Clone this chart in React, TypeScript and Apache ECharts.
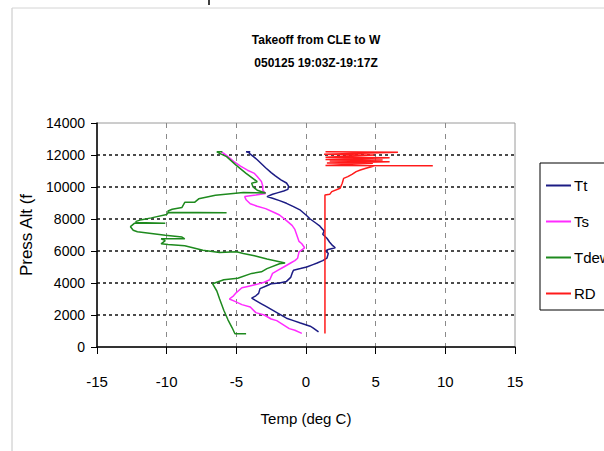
import React, { useEffect, useRef } from "react";
import * as echarts from "echarts";

const titleLine1 = "Takeoff from CLE to W";
const titleLine2 = "050125 19:03Z-19:17Z";
const xAxisName = "Temp (deg C)";
const yAxisName = "Press Alt (f";
const seriesNames = ["Tt", "Ts", "Tdew", "RD"];

// [temp (deg C), pressure altitude (ft)]
const ttData: [number, number][] = [
  [0.9, 950], [0.5, 1200], [0.3, 1300], [-0.4, 1500], [-0.9, 1650], [-1.4, 1800], [-2.0, 2100],
  [-2.4, 2300], [-2.9, 2550], [-3.2, 2700], [-3.6, 2900], [-3.9, 3050], [-3.6, 3200], [-3.4, 3350],
  [-3.3, 3650], [-2.9, 3800], [-2.5, 3950], [-1.9, 4000], [-1.4, 4100], [-1.1, 4350], [-1.0, 4600],
  [-0.9, 4800], [-0.4, 4900], [0.05, 5000], [0.5, 5150], [0.8, 5250], [1.2, 5400], [1.5, 5550],
  [1.6, 5850], [1.4, 6000], [1.6, 6100], [2.1, 6200], [1.9, 6350], [1.7, 6550], [1.5, 6800],
  [1.2, 7050], [1.3, 7250], [1.0, 7550], [0.7, 7750], [0.3, 8000], [0.0, 8250], [-0.4, 8550],
  [-0.9, 8770], [-1.4, 8980], [-1.9, 9150], [-2.4, 9300], [-2.8, 9400], [-2.4, 9550], [-2.0, 9650],
  [-1.6, 9750], [-1.3, 9850], [-1.25, 10050], [-1.4, 10250], [-1.8, 10450], [-2.2, 10700],
  [-2.5, 10900], [-2.9, 11200], [-3.2, 11450], [-3.5, 11700], [-3.7, 11850], [-4.0, 12050],
  [-4.1, 12150], [-4.3, 12200], [-4.0, 12200],
];

const tsData: [number, number][] = [
  [-0.3, 850], [-0.8, 1050], [-1.2, 1150], [-2.1, 1650], [-2.5, 1750], [-3.0, 2000], [-3.6, 2150],
  [-4.0, 2500], [-4.6, 2650], [-5.1, 2850], [-5.5, 3000], [-5.2, 3200], [-5.0, 3400], [-4.6, 3700],
  [-4.1, 3800], [-3.6, 3900], [-3.0, 4050], [-2.6, 4200], [-2.4, 4600], [-2.0, 4800], [-1.6, 5000],
  [-1.1, 5250], [-0.8, 5400], [-0.6, 5550], [-0.5, 5950], [-0.1, 6200], [-0.3, 6450], [-0.5, 6600],
  [-0.6, 6850], [-0.7, 7100], [-0.8, 7350], [-1.0, 7600], [-1.4, 7900], [-1.9, 8250], [-2.4, 8450],
  [-2.9, 8650], [-3.5, 8800], [-4.0, 8950], [-4.3, 9200], [-4.4, 9400], [-3.6, 9500], [-2.9, 9600],
  [-3.1, 9800], [-3.1, 10050], [-3.2, 10350], [-3.5, 10650], [-3.7, 10850], [-4.2, 11050],
  [-4.7, 11300], [-5.2, 11600], [-5.6, 11900], [-5.9, 12100], [-6.1, 12200],
];

const tdewData: [number, number][] = [
  [-4.3, 830], [-5.1, 830], [-5.3, 1200], [-5.6, 1700], [-5.9, 2300], [-6.2, 3000], [-6.4, 3500],
  [-6.7, 3950], [-5.9, 4200], [-4.9, 4300], [-3.9, 4600], [-3.2, 4700], [-2.8, 4900], [-1.9, 5200],
  [-1.5, 5250], [-2.8, 5500], [-3.7, 5700], [-4.5, 5850], [-5.0, 5950], [-6.2, 5900], [-7.4, 6050],
  [-8.7, 6330], [-9.9, 6400], [-10.4, 6450], [-10.1, 6650], [-10.4, 6760], [-8.7, 6760],
  [-8.9, 6870], [-10.1, 6980], [-11.1, 7090], [-12.1, 7200], [-12.4, 7300], [-12.6, 7520],
  [-12.3, 7740], [-10.1, 7740], [-12.2, 7780], [-12.2, 7850], [-11.8, 7960], [-11.1, 8070],
  [-10.0, 8280], [-9.9, 8390], [-5.7, 8390], [-9.9, 8420], [-9.9, 8500], [-9.6, 8610],
  [-8.9, 8720], [-8.7, 9040], [-8.0, 9040], [-7.7, 9260], [-6.5, 9480], [-4.5, 9650],
  [-2.9, 9620], [-3.5, 9800], [-3.8, 10000], [-3.9, 10230], [-3.5, 10330], [-4.3, 10850],
  [-5.0, 11350], [-5.7, 11900], [-6.2, 12100], [-6.4, 12200], [-6.0, 12200],
];

const rdData: [number, number][] = [
  [1.36, 850], [1.36, 9500], [1.7, 9540], [1.85, 9710], [2.45, 9920], [2.6, 10230], [2.7, 10540],
  [3.0, 10650], [3.3, 10790], [3.6, 10960], [3.9, 11060], [4.3, 11170], [4.7, 11270], [4.9, 11330],
  [9.1, 11330], [1.4, 11350], [4.8, 11480], [1.5, 11500], [6.0, 11580], [1.7, 11620], [5.5, 11690],
  [1.4, 11720], [6.0, 11830], [1.4, 11860], [4.9, 12000], [1.3, 12050], [6.6, 12170], [1.4, 12200],
];

const seriesColors = ["#1c1c84", "#ff2bff", "#1e8a1e", "#ff1a1a"];

const FONT = "'Liberation Sans Narrow','Liberation Sans',Arial,sans-serif";

export default function App() {
  const ref = useRef<HTMLDivElement>(null);
  useEffect(() => {
    if (!ref.current) return;
    const chart = echarts.init(ref.current, undefined, { renderer: "svg" });
    const datasets = [ttData, tsData, tdewData, rdData];
    chart.setOption({
      animation: false,
      backgroundColor: "#ffffff",
      title: {
        text: titleLine1 + "\n" + titleLine2,
        left: 311,
        top: 23,
        textAlign: "center",
        textStyle: {
          fontFamily: FONT,
          fontWeight: "bold",
          fontSize: 12,
          lineHeight: 23,
          color: "#000",
        },
      },
      legend: {
        orient: "vertical",
        left: 540,
        top: 163,
        padding: [15, 50, 9, 6],
        itemGap: 21,
        itemWidth: 25,
        itemHeight: 2,
        icon: "rect",
        borderColor: "#000",
        borderWidth: 1,
        data: seriesNames,
        textStyle: { fontFamily: FONT, fontSize: 15, color: "#000", padding: [0, 0, 0, -2] },
      },
      grid: {
        left: 97,
        right: 89,
        top: 123,
        bottom: 104,
        show: true,
        borderColor: "#9a9a9a",
        borderWidth: 1,
      },
      xAxis: {
        type: "value",
        min: -15,
        max: 15,
        interval: 5,
        name: xAxisName,
        nameLocation: "middle",
        nameGap: 64,
        nameTextStyle: { fontFamily: FONT, fontSize: 15, color: "#000" },
        axisLine: { show: true, onZero: false, lineStyle: { color: "#000", width: 1.5 } },
        axisTick: { show: true, length: 7, lineStyle: { color: "#000" } },
        axisLabel: { fontFamily: FONT, fontSize: 15, color: "#000", margin: 27 },
        splitLine: {
          show: true,
          showMinLine: false,
          showMaxLine: false,
          lineStyle: { color: "#8a8a8a", type: [5, 6], width: 1 },
        },
      },
      yAxis: {
        type: "value",
        min: 0,
        max: 14000,
        interval: 2000,
        name: yAxisName,
        nameLocation: "middle",
        nameGap: 60,
        nameTextStyle: { fontFamily: FONT, fontSize: 17, color: "#000" },
        axisLine: { show: true, onZero: false, lineStyle: { color: "#000", width: 1.5 } },
        axisTick: { show: true, length: 6, lineStyle: { color: "#000" } },
        axisLabel: {
          fontFamily: FONT,
          fontSize: 14,
          color: "#000",
          margin: 12,
          formatter: (v: number) => String(v),
        },
        splitLine: {
          show: true,
          showMinLine: false,
          showMaxLine: false,
          lineStyle: { color: "#111", type: [3, 3], width: 1.6 },
        },
      },
      graphic: [
        { type: "line", shape: { x1: 12, y1: 8, x2: 12, y2: 451 }, style: { stroke: "#c4c4c4", lineWidth: 1 } },
        { type: "line", shape: { x1: 12, y1: 8, x2: 604, y2: 8 }, style: { stroke: "#d4d4d4", lineWidth: 1 } },
        { type: "line", shape: { x1: 209, y1: 0, x2: 209, y2: 5 }, style: { stroke: "#000", lineWidth: 1.5 } },
      ],
      series: seriesNames.map((name, i) => ({
        name,
        type: "line",
        data: datasets[i],
        symbol: "none",
        color: seriesColors[i],
        lineStyle: { color: seriesColors[i], width: 1.5 },
      })),
    });
    return () => chart.dispose();
  }, []);
  return (
    <div
      ref={ref}
      style={{ position: "fixed", left: 0, top: 0, width: 604, height: 451 }}
    />
  );
}
